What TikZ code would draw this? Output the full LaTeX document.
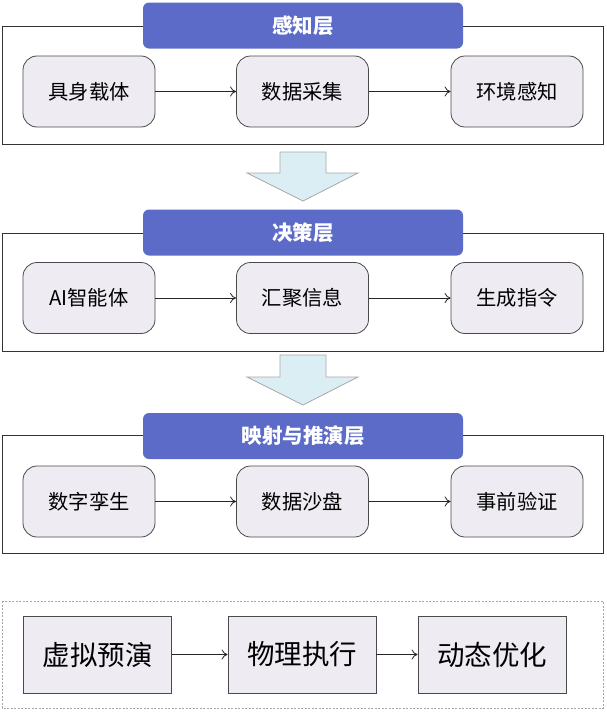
\documentclass[tikz,border=0pt]{standalone}
\usepackage{fontspec}
\setmainfont{Noto Sans CJK SC}
\usetikzlibrary{arrows.meta}
\definecolor{titlebg}{HTML}{5B6BC7}
\definecolor{boxbg}{HTML}{EEEBF2}
\definecolor{boxline}{HTML}{4A4A4A}
\definecolor{arrbg}{HTML}{DBEEF4}
\definecolor{arrline}{HTML}{A8A8A8}
\definecolor{frameline}{HTML}{333333}
\begin{document}
\begin{tikzpicture}[x=1pt,y=-1pt,
  frame/.style={draw=frameline,line width=0.9pt},
  dframe/.style={draw=gray!70,line width=0.7pt,dash pattern=on 2pt off 1.5pt},
  titlebar/.style={fill=titlebg,rounded corners=6pt,minimum width=320pt,minimum height=46pt,inner sep=0pt,text=white,font=\fontsize{20.5}{22}\selectfont\bfseries},
  stagebox/.style={draw=boxline,fill=boxbg,line width=0.8pt,rounded corners=14pt,minimum width=132pt,minimum height=71pt,inner sep=0pt,font=\fontsize{20.3}{22}\selectfont},
  sqbox/.style={draw=boxline,fill=boxbg,line width=0.8pt,minimum width=148pt,minimum height=77pt,inner sep=0pt,font=\fontsize{27.5}{30}\selectfont},
  flow/.style={-{To[length=6pt,width=10pt]},draw=black!85,line width=0.8pt},
  bigarrow/.style={draw=arrline,fill=arrbg,line width=0.8pt}
]
\useasboundingbox (0,0) rectangle (607,712);

% ---------- layer 1
\draw[frame] (2,26) rectangle (603,144);
\node[titlebar] (t1) at (303,25.5) {感知层};
\node[stagebox] (a1) at (89,91.5) {具身载体};
\node[stagebox] (a2) at (302.5,91.5) {数据采集};
\node[stagebox] (a3) at (517,91.5) {环境感知};
\draw[flow] (a1) -- (a2);
\draw[flow] (a2) -- (a3);

% big arrow 1
\draw[bigarrow] (280,152) -- (326,152) -- (326,173) -- (358,173) -- (303,201) -- (247,173) -- (280,173) -- cycle;

% ---------- layer 2
\draw[frame] (2,233) rectangle (603,351);
\node[titlebar] (t2) at (303,232.5) {决策层};
\node[stagebox] (b1) at (89,298) {AI智能体};
\node[stagebox] (b2) at (302.5,298) {汇聚信息};
\node[stagebox] (b3) at (517,298) {生成指令};
\draw[flow] (b1) -- (b2);
\draw[flow] (b2) -- (b3);

% big arrow 2
\draw[bigarrow] (280,355) -- (326,355) -- (326,377) -- (358,377) -- (303,405) -- (247,377) -- (280,377) -- cycle;

% ---------- layer 3
\draw[frame] (2,435) rectangle (603,553);
\node[titlebar] (t3) at (303,436) {映射与推演层};
\node[stagebox] (c1) at (89,501.5) {数字孪生};
\node[stagebox] (c2) at (302.5,501.5) {数据沙盘};
\node[stagebox] (c3) at (517,501.5) {事前验证};
\draw[flow] (c1) -- (c2);
\draw[flow] (c2) -- (c3);

% ---------- bottom
\draw[dframe] (2,601) rectangle (603,708);
\node[sqbox] (d1) at (97.5,654.5) {虚拟预演};
\node[sqbox] (d2) at (302,654.5) {物理执行};
\node[sqbox] (d3) at (492,654.5) {动态优化};
\draw[flow] (d1) -- (d2);
\draw[flow] (d2) -- (d3);
\end{tikzpicture}
\end{document}
